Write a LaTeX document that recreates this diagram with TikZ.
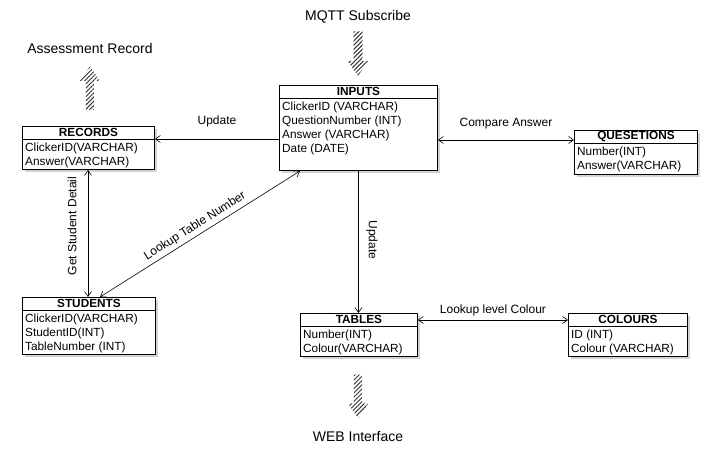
\documentclass[tikz,border=0pt]{standalone}
\usepackage{fontspec}
\setmainfont{Liberation Sans}
\usetikzlibrary{positioning,shadows,patterns.meta,shapes.arrows,arrows.meta}

\begin{document}
\begin{tikzpicture}[x=1pt, y=-1pt,
    every node/.style={font=\fontsize{12}{14}\selectfont},
    >={Straight Barb[length=5pt,width=7pt]},
    link/.style={line width=0.6pt},
    iolabel/.style={font=\fontsize{14}{17}\selectfont},
    dbbox/.style={draw, line width=0.9pt, fill=white, anchor=north west, inner sep=0pt,
        drop shadow={shadow xshift=2.5pt, shadow yshift=-3pt, opacity=0.35}},
    dbtitle/.style={anchor=north, minimum height=13pt, inner sep=0pt,
        font=\fontsize{11.8}{13}\selectfont\bfseries},
    dbrows/.style={anchor=north west, align=left, inner xsep=3pt, inner ysep=3.5pt,
        font=\fontsize{11.8}{14}\selectfont},
    hatch/.style={single arrow, draw=none, inner sep=0pt,
        single arrow head extend=6pt, single arrow tip angle=70,
        pattern={Lines[angle=45, distance=3pt, line width=1pt]}, pattern color=black!80}]

    \useasboundingbox (0,0) rectangle (718,454);

    % tables
    \foreach \name/\x/\y/\w/\h/\title/\rows in {
        inputs/279/85/158/85/INPUTS/{ClickerID (VARCHAR)\\QuestionNumber (INT)\\Answer (VARCHAR)\\Date (DATE)},
        records/22/126/132/43/RECORDS/{ClickerID(VARCHAR)\\Answer(VARCHAR)},
        students/22/297/133/57/STUDENTS/{ClickerID(VARCHAR)\\StudentID(INT)\\TableNumber (INT)},
        tables/300/313/117/43/TABLES/{Number(INT)\\Colour(VARCHAR)},
        questions/574/130/123/44/QUESETIONS/{Number(INT)\\Answer(VARCHAR)},
        colours/568/313/119/43/COLOURS/{ID (INT)\\Colour (VARCHAR)}}
    {
        \node[dbbox, minimum width=\w pt, minimum height=\h pt] (\name) at (\x,\y) {};
        \node[dbtitle] (\name-t) at (\name.north) {\title};
        \draw[line width=0.7pt] (\name-t.south -| \name.west) -- (\name-t.south -| \name.east);
        \node[dbrows] (\name-b) at (\name-t.south -| \name.west) {\rows};
    }

    % outside sources and sinks
    \node[iolabel] (mqtt) at (358,17) {MQTT Subscribe};
    \node[iolabel] (assess) at (90,48) {Assessment Record};
    \node[iolabel] (web) at (358,437) {WEB Interface};
    \node[hatch, rotate=-90, anchor=tail] (mqtt-a) at ([yshift=-4pt]mqtt.south)
        {\hbox to 37pt{\vrule width 0pt height 4pt depth 4pt\hfil}};
    \node[hatch, rotate=90, anchor=tail] (assess-a) at ([yshift=16pt]records.north -| assess)
        {\hbox to 37pt{\vrule width 0pt height 4pt depth 4pt\hfil}};
    \node[hatch, rotate=-90, anchor=tip] (web-a) at ([yshift=10pt]web.north)
        {\hbox to 37pt{\vrule width 0pt height 4pt depth 4pt\hfil}};

    % connector ends
    \coordinate (upd) at (0,139);
    \coordinate (cmp) at (0,140);
    \coordinate (lkc) at (0,320);
    \coordinate (gsd) at (88,0);
    \coordinate (ltn-s) at (100,0);
    \coordinate (ltn-i) at (300,171);

    % connectors
    \draw[link, ->] (inputs.west |- upd) -- node[above=8pt] (upd-l) {Update} (records.east |- upd);
    \draw[link, <->] (inputs.east |- cmp) -- node[above=7pt] (cmp-l) {Compare Answer} (questions.west |- cmp);
    \draw[link, ->] (inputs.south) -- (tables.north -| inputs.south);
    \node[rotate=-90] (upd2-l) at (372,240) {Update};
    \draw[link, <->] (tables.east |- lkc) -- node[above] (lkc-l) {Lookup level Colour} (colours.west |- lkc);
    \draw[link, <->] (records.south -| gsd) -- (students.north -| gsd);
    \node[rotate=90] (gsd-l) at (72,226) {Get Student Detail};
    \draw[link, <->] (students.north -| ltn-s) -- node[midway, sloped, above] (ltn-l) {Lookup Table Number} (ltn-i);

\end{tikzpicture}
\end{document}
